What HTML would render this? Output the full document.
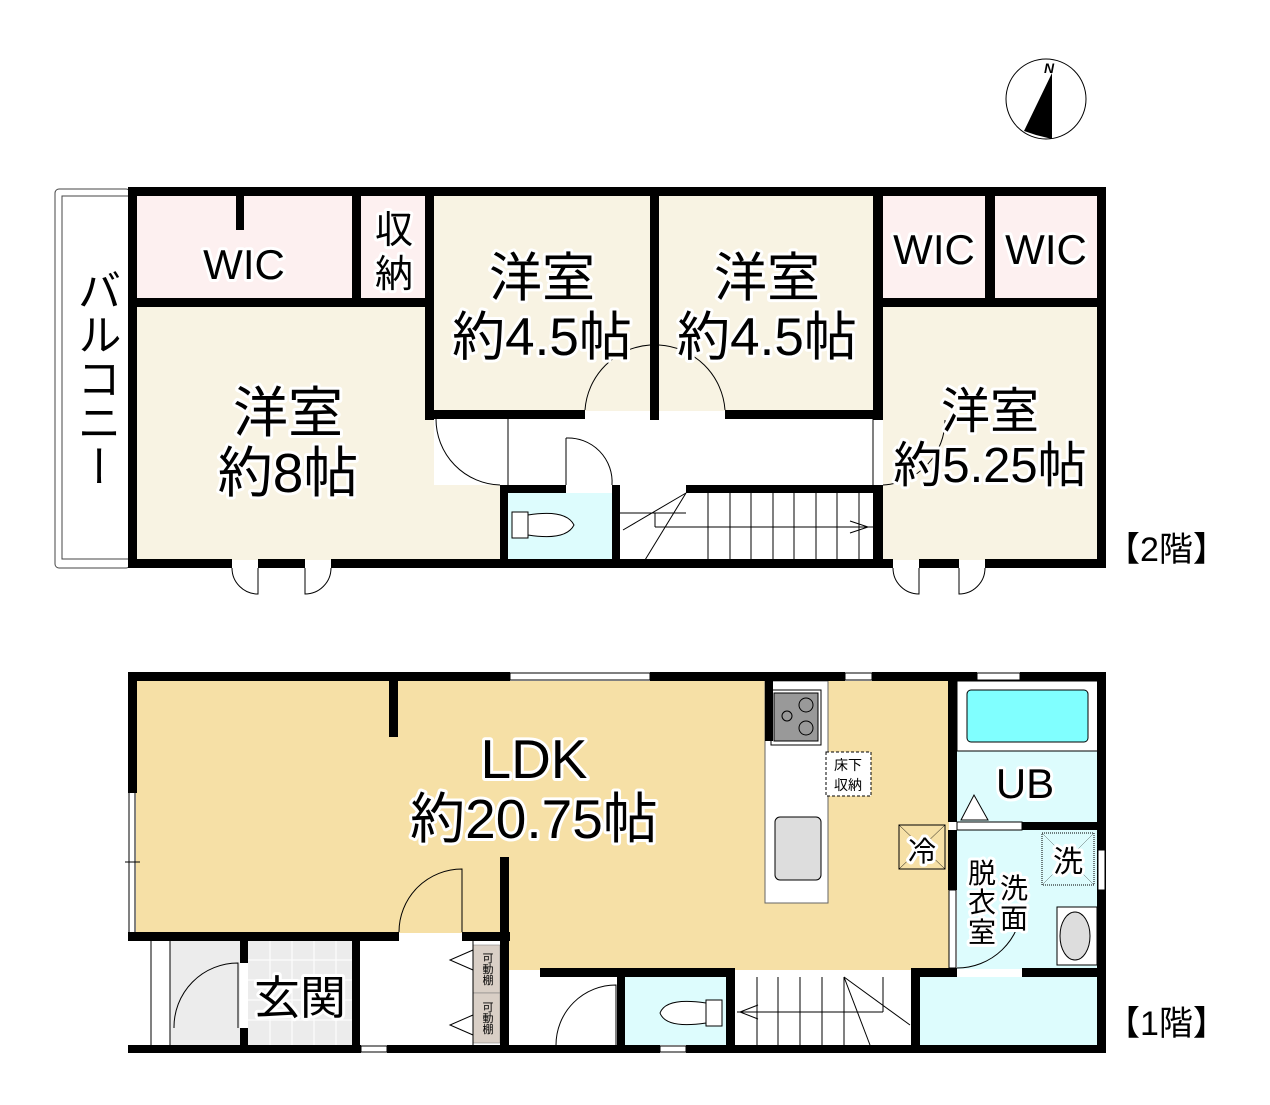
<!DOCTYPE html>
<html><head><meta charset="utf-8"><style>
html,body{margin:0;padding:0;background:#fff;}
svg{display:block;}
.t{font-family:"Liberation Sans","Noto Sans CJK JP",sans-serif;fill:#000;stroke:#fff;stroke-width:6px;paint-order:stroke;stroke-linejoin:round;}
.s{font-family:"Liberation Sans","Noto Sans CJK JP",sans-serif;fill:#000;}
</style></head><body>
<svg width="1270" height="1105" viewBox="0 0 1270 1105" xmlns="http://www.w3.org/2000/svg">
<circle cx="1046" cy="99" r="40" fill="#fff" stroke="#000" stroke-width="1"/>
<polygon points="1052,73 1052,139 1036,135 1024,131" fill="#000"/>
<text x="1044" y="73" class="s" font-size="14" font-style="italic" font-weight="bold" font-family="Liberation Serif">N</text>

<!-- ===== 2F ===== -->
<rect x="55" y="189" width="75" height="379" rx="4" fill="#fff" stroke="#444" stroke-width="1"/>
<rect x="62" y="196" width="68" height="363" fill="#fff" stroke="#444" stroke-width="1"/>
<rect x="136" y="196" width="217" height="102" fill="#fdf0f0"/>
<rect x="361" y="196" width="65" height="102" fill="#fdf0f0"/>
<rect x="136" y="306" width="370" height="254" fill="#f8f3e3"/>
<rect x="434" y="196" width="217" height="215" fill="#f8f3e3"/>
<rect x="659" y="196" width="215" height="215" fill="#f8f3e3"/>
<rect x="883" y="196" width="103" height="102" fill="#fdf0f0"/>
<rect x="995" y="196" width="103" height="102" fill="#fdf0f0"/>
<rect x="883" y="306" width="215" height="254" fill="#f8f3e3"/>
<rect x="434" y="419" width="440" height="66" fill="#fff"/>
<rect x="508" y="493" width="104" height="67" fill="#ddfcfd"/>
<g stroke="#000" stroke-width="1" fill="none">
<line x1="620" y1="513" x2="686" y2="513"/>
<line x1="655" y1="513" x2="655" y2="527"/>
<line x1="655" y1="527" x2="873" y2="527"/>
<line x1="686" y1="493" x2="623" y2="530"/>
<line x1="686" y1="493" x2="645" y2="560"/>
<path d="M850 521 L868 527 L850 533"/>
</g>
<g stroke="#000" stroke-width="1">
<line x1="708" y1="493" x2="708" y2="560"/><line x1="730" y1="493" x2="730" y2="560"/><line x1="751" y1="493" x2="751" y2="560"/><line x1="773" y1="493" x2="773" y2="560"/><line x1="794" y1="493" x2="794" y2="560"/><line x1="816" y1="493" x2="816" y2="560"/><line x1="837" y1="493" x2="837" y2="560"/><line x1="859" y1="493" x2="859" y2="560"/>
</g>
<rect x="512" y="512" width="16" height="26" fill="#fff" stroke="#000"/>
<path d="M528 515 Q566 509 574 525 Q566 541 528 535 Z" fill="#fff" stroke="#000"/>
<g fill="none" stroke="#000" stroke-width="1">
<path d="M585 410 A70 70 0 0 1 650 345"/>
<path d="M725 410 A70 70 0 0 0 659 345"/>
<path d="M436 419 A66 66 0 0 0 500 485"/>
<path d="M566 438 A44 44 0 0 1 612 485"/><line x1="566" y1="438" x2="566" y2="485"/>
<path d="M883 485 A65 65 0 0 0 945 420"/>
<path d="M232 568 A26 26 0 0 0 258 594 L258 568"/>
<path d="M331 568 A26 26 0 0 1 305 594 L305 568"/>
<path d="M893 568 A26 26 0 0 0 919 594 L919 568"/>
<path d="M985 568 A26 26 0 0 1 959 594 L959 568"/>
<line x1="508" y1="419" x2="508" y2="485"/><line x1="873" y1="419" x2="873" y2="485"/>
</g>
<g fill="#000">
<rect x="128" y="187" width="978" height="9"/>
<rect x="128" y="559" width="104" height="9"/><rect x="258" y="559" width="47" height="9"/><rect x="331" y="559" width="562" height="9"/><rect x="919" y="559" width="40" height="9"/><rect x="985" y="559" width="121" height="9"/>
<rect x="128" y="187" width="9" height="381"/>
<rect x="1097" y="187" width="9" height="381"/>
<rect x="128" y="298" width="306" height="9"/>
<rect x="236" y="196" width="8" height="34"/>
<rect x="352" y="196" width="9" height="106"/>
<rect x="425" y="196" width="9" height="224"/>
<rect x="434" y="410" width="151" height="9"/>
<rect x="650" y="196" width="9" height="224"/>
<rect x="725" y="410" width="158" height="9"/>
<rect x="873" y="196" width="10" height="224"/>
<rect x="873" y="485" width="10" height="80"/>
<rect x="873" y="298" width="233" height="9"/>
<rect x="985" y="196" width="10" height="106"/>
<rect x="500" y="485" width="8" height="80"/>
<rect x="500" y="485" width="66" height="8"/>
<rect x="612" y="485" width="8" height="80"/>
<rect x="686" y="485" width="197" height="8"/>
</g>
<text x="244" y="279" class="t" font-size="42" text-anchor="middle">WIC</text>
<text x="394" y="243" class="t" font-size="38" text-anchor="middle">収</text>
<text x="394" y="287" class="t" font-size="38" text-anchor="middle">納</text>
<text x="542" y="296" class="t" font-size="53" text-anchor="middle">洋室</text>
<text x="542" y="355" class="t" font-size="53" text-anchor="middle">約4.5帖</text>
<text x="767" y="296" class="t" font-size="53" text-anchor="middle">洋室</text>
<text x="767" y="355" class="t" font-size="53" text-anchor="middle">約4.5帖</text>
<text x="934" y="264" class="t" font-size="42" text-anchor="middle">WIC</text>
<text x="1046" y="264" class="t" font-size="42" text-anchor="middle">WIC</text>
<text x="990" y="428" class="t" font-size="49" text-anchor="middle">洋室</text>
<text x="990" y="482" class="t" font-size="49" text-anchor="middle">約5.25帖</text>
<text x="288" y="432" class="t" font-size="55" text-anchor="middle">洋室</text>
<text x="288" y="492" class="t" font-size="55" text-anchor="middle">約8帖</text>
<text x="95" y="378" class="t" font-size="44" text-anchor="middle" writing-mode="tb">バルコニー</text>
<text x="1106" y="561" class="s" font-size="34">【2階】</text>

<!-- ===== 1F ===== -->
<rect x="136" y="681" width="813" height="252" fill="#f6e0a6"/>
<rect x="508" y="930" width="441" height="40" fill="#f6e0a6"/>
<rect x="957" y="681" width="141" height="288" fill="#ddfcfd"/>
<rect x="920" y="977" width="178" height="68" fill="#ddfcfd"/>
<rect x="620" y="977" width="106" height="68" fill="#ddfcfd"/>
<rect x="508" y="977" width="112" height="68" fill="#fff"/>
<rect x="735" y="977" width="176" height="68" fill="#fff"/>
<rect x="170" y="941" width="70" height="104" fill="#ececec"/>
<rect x="248" y="941" width="108" height="104" fill="#ececec"/>
<g stroke="#fff" stroke-width="1">
<line x1="248" y1="960" x2="356" y2="960"/><line x1="248" y1="980" x2="356" y2="980"/><line x1="248" y1="1000" x2="356" y2="1000"/><line x1="248" y1="1020" x2="356" y2="1020"/>
<line x1="270" y1="941" x2="270" y2="1045"/><line x1="292" y1="941" x2="292" y2="1045"/><line x1="314" y1="941" x2="314" y2="1045"/><line x1="336" y1="941" x2="336" y2="1045"/>
</g>
<rect x="356" y="941" width="117" height="104" fill="#fff"/>
<rect x="473" y="945" width="27" height="48" fill="#d9cfc6" stroke="#777" stroke-width="0.5"/>
<rect x="473" y="993" width="27" height="50" fill="#d9cfc6" stroke="#777" stroke-width="0.5"/>
<text x="487" y="969" class="s" font-size="11" text-anchor="middle" writing-mode="tb">可動棚</text>
<text x="487" y="1018" class="s" font-size="11" text-anchor="middle" writing-mode="tb">可動棚</text>
<rect x="765" y="681" width="63" height="222" fill="#fff" stroke="#666" stroke-width="1"/>
<rect x="771" y="690" width="50" height="55" fill="#fff" stroke="#000"/>
<rect x="774" y="693" width="44" height="48" fill="#999" stroke="#000"/>
<g fill="none" stroke="#000"><circle cx="806" cy="705" r="7"/><circle cx="806" cy="728" r="7"/><circle cx="787" cy="716" r="5"/></g>
<rect x="775" y="817" width="46" height="63" rx="5" fill="#ddd" stroke="#000"/>
<rect x="826" y="752" width="45" height="44" fill="#fff" stroke="#000" stroke-dasharray="3,2"/>
<text x="848" y="770" class="s" font-size="14" text-anchor="middle">床下</text>
<text x="848" y="790" class="s" font-size="14" text-anchor="middle">収納</text>
<rect x="899" y="825" width="46" height="44" fill="#f6e0a6" stroke="#000"/>
<path d="M899 825 L945 869 M945 825 L899 869" stroke="#000" stroke-width="0.5"/>
<text x="922" y="861" class="t" font-size="28" text-anchor="middle">冷</text>
<rect x="957" y="681" width="141" height="70" fill="#fff" stroke="#000"/>
<rect x="967" y="690" width="121" height="52" rx="4" fill="#80ffff" stroke="#000"/>
<polygon points="961,820 974,795 988,820" fill="#fff" stroke="#000"/>
<rect x="957" y="822" width="65" height="8" fill="#fff" stroke="#000"/>
<rect x="1042" y="833" width="52" height="52" fill="#ddfcfd" stroke="#000" stroke-dasharray="1,1"/>
<path d="M1042 833 L1094 885 M1094 833 L1042 885" stroke="#000" stroke-width="0.3"/>
<text x="1068" y="872" class="t" font-size="30" text-anchor="middle">洗</text>
<rect x="1057" y="907" width="40" height="58" fill="#fff" stroke="#000"/>
<ellipse cx="1075" cy="936" rx="15" ry="24" fill="#ddd" stroke="#000"/>
<g stroke="#000" stroke-width="1" fill="none">
<line x1="757" y1="977" x2="757" y2="1045"/><line x1="778" y1="977" x2="778" y2="1045"/><line x1="800" y1="977" x2="800" y2="1045"/><line x1="822" y1="977" x2="822" y2="1045"/><line x1="844" y1="977" x2="844" y2="1045"/>
<line x1="844" y1="1012" x2="883" y2="1012"/><line x1="883" y1="977" x2="883" y2="1012"/>
<line x1="737" y1="1012" x2="844" y2="1012"/>
<path d="M758 1005 L740 1012 L758 1019"/>
<line x1="844" y1="977" x2="910" y2="1025"/><line x1="844" y1="977" x2="870" y2="1045"/>
</g>
<rect x="706" y="1000" width="16" height="26" fill="#fff" stroke="#000"/>
<path d="M706 1003 Q666 997 660 1013 Q666 1029 706 1023 Z" fill="#fff" stroke="#000"/>
<g fill="none" stroke="#000" stroke-width="1">
<path d="M399 932 A63 63 0 0 1 462 869 L462 932"/>
<path d="M174 1028 A64 64 0 0 1 238 963 L238 1028"/>
<path d="M556 1045 A60 60 0 0 1 616 985 L616 1045"/>
<path d="M957 968 A65 65 0 0 0 1022 905"/>
<line x1="151" y1="941" x2="151" y2="1045"/><line x1="170" y1="941" x2="170" y2="1045"/>
<line x1="473" y1="941" x2="473" y2="1045"/>
<path d="M473 950 L450 960 L473 970 M473 1015 L450 1025 L473 1035"/>
<line x1="129" y1="793" x2="129" y2="935"/><line x1="135" y1="793" x2="135" y2="935"/>
<line x1="125" y1="862" x2="140" y2="862"/>
</g>
<g fill="#000">
<rect x="128" y="672" width="382" height="9"/><rect x="650" y="672" width="195" height="9"/><rect x="872" y="672" width="105" height="9"/><rect x="1020" y="672" width="86" height="9"/>
<rect x="128" y="672" width="9" height="121"/>
<rect x="389" y="681" width="9" height="56"/>
<rect x="128" y="932" width="271" height="9"/><rect x="462" y="932" width="48" height="9"/>
<rect x="240" y="941" width="8" height="22"/><rect x="240" y="1028" width="8" height="17"/>
<rect x="352" y="941" width="8" height="104"/>
<rect x="500" y="857" width="9" height="196"/>
<rect x="128" y="1045" width="233" height="8"/><rect x="387" y="1045" width="273" height="8"/><rect x="686" y="1045" width="420" height="8"/>
<rect x="540" y="968" width="195" height="9"/>
<rect x="617" y="977" width="8" height="68"/>
<rect x="726" y="968" width="9" height="85"/>
<rect x="911" y="968" width="46" height="9"/>
<rect x="911" y="968" width="9" height="77"/>
<rect x="765" y="681" width="8" height="60"/>
<rect x="948" y="672" width="9" height="150"/>
<rect x="948" y="830" width="9" height="60"/>
<rect x="1097" y="672" width="9" height="381"/>
<rect x="1022" y="822" width="84" height="8"/>
<rect x="1022" y="968" width="84" height="9"/>
</g>
<g fill="#fff" stroke="#000" stroke-width="1">
<rect x="510" y="673" width="140" height="7"/><rect x="845" y="673" width="27" height="7"/><rect x="977" y="673" width="43" height="7"/>
<rect x="361" y="1046" width="26" height="6"/><rect x="660" y="1046" width="26" height="6"/>
<rect x="1098" y="850" width="7" height="40"/>
<rect x="949" y="890" width="7" height="78"/>
</g>
<text x="534" y="778" class="t" font-size="55" text-anchor="middle">LDK</text>
<text x="534" y="838" class="t" font-size="55" text-anchor="middle">約20.75帖</text>
<text x="1025" y="798" class="t" font-size="42" text-anchor="middle">UB</text>
<text x="982" y="883" class="t" font-size="28" text-anchor="middle">脱</text>
<text x="982" y="912" class="t" font-size="28" text-anchor="middle">衣</text>
<text x="982" y="942" class="t" font-size="28" text-anchor="middle">室</text>
<text x="1014" y="898" class="t" font-size="28" text-anchor="middle">洗</text>
<text x="1014" y="928" class="t" font-size="28" text-anchor="middle">面</text>
<text x="300" y="1014" class="t" font-size="46" text-anchor="middle">玄関</text>
<text x="1106" y="1035" class="s" font-size="34">【1階】</text>
</svg>
</body></html>
